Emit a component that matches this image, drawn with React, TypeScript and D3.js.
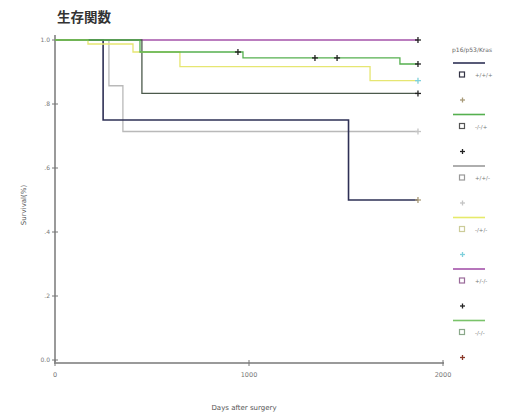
import React from "react";
import * as d3 from "d3";

const title = "生存関数";
const legendTitle = "p16/p53/Kras";
const groups = ["+/+/+", "-/-/+", "+/+/-", "-/+/-", "+/-/-", "-/-/-"];

// step times (days) and survival after each step
const timesS1 = [0, 248, 1513, 1871];
const survS1 = [1, 0.75, 0.5, 0.5];
const censS1 = [1871];

const timesS2 = [0, 438, 969, 1778, 1871];
const survS2 = [1, 0.9625, 0.944, 0.925, 0.925];
const censS2 = [943, 1340, 1454, 1871];

const timesS3 = [0, 278, 350, 1871];
const survS3 = [1, 0.857, 0.714, 0.714];
const censS3 = [1871];

const timesS4 = [0, 170, 402, 644, 1624, 1871];
const survS4 = [1, 0.9875, 0.9625, 0.917, 0.873, 0.873];
const censS4 = [1871];

const timesS5 = [0, 1871];
const survS5 = [1, 1];
const censS5 = [1871];

const timesS6 = [0, 448, 1871];
const survS6 = [1, 0.833, 0.833];
const censS6 = [1871];

const xTicks = [0, 1000, 2000];
const xTickLabels = ["0", "1000", "2000"];
const yTicks = [0, 0.2, 0.4, 0.6, 0.8, 1.0];
const yTickLabels = ["0.0", ".2", ".4", ".6", ".8", "1.0"];

const seriesTimes = [timesS1, timesS2, timesS3, timesS4, timesS5, timesS6];
const seriesSurv = [survS1, survS2, survS3, survS4, survS5, survS6];
const seriesCens = [censS1, censS2, censS3, censS4, censS5, censS6];

const curveColors = ["#2e3055", "#55b04f", "#b9b9b9", "#e6e672", "#a452aa", "#4c5a4c"];
const legendLineColors = ["#2e3055", "#55b04f", "#9a9a9a", "#e6ea6a", "#a452aa", "#7ac36a"];
const censorColors = ["#a89a78", "#222222", "#c4c4c4", "#7fd0dc", "#222222", "#8a3a2a"];
const symbolColors = ["#333344", "#555555", "#999999", "#cccc99", "#9a6a9a", "#8aa88a"];
const drawOrder = [4, 2, 0, 5, 3, 1];

const x = d3.scaleLinear().domain([0, 2000]).range([55, 443]);
const y = d3.scaleLinear().domain([0, 1]).range([360, 40]);

const line = d3
  .line<[number, number]>()
  .x((d) => x(d[0]))
  .y((d) => y(d[1]))
  .curve(d3.curveStepAfter);

function survAt(times: number[], surv: number[], t: number) {
  let v = surv[0];
  for (let i = 0; i < times.length; i++) if (times[i] <= t) v = surv[i];
  return v;
}

function Plus({ cx, cy, color, s = 3 }: { cx: number; cy: number; color: string; s?: number }) {
  return (
    <g stroke={color} strokeWidth={1.3}>
      <line x1={cx - s} x2={cx + s} y1={cy} y2={cy} />
      <line x1={cx} x2={cx} y1={cy - s} y2={cy + s} />
    </g>
  );
}

export default function App() {
  const font = "'DejaVu Sans', Arial, sans-serif";
  return (
    <svg width={515} height={414} style={{ position: "absolute", left: 0, top: 0, background: "#fff" }}>
      <text x={57} y={22} fontSize={13.5} fontWeight="bold" fill="#333" fontFamily="'Noto Sans CJK JP', sans-serif">
        {title}
      </text>

      {/* axes */}
      <line x1={55} x2={55} y1={35} y2={363} stroke="#9a9a9a" strokeWidth={2} />
      <line x1={54} x2={444} y1={363} y2={363} stroke="#9a9a9a" strokeWidth={2} />
      {yTicks.map((t, i) => (
        <g key={"yt" + i}>
          <line x1={52} x2={58} y1={y(t)} y2={y(t)} stroke="#777" strokeWidth={1} />
          <text x={50} y={y(t) + 2} fontSize={6} textAnchor="end" fill="#777" fontFamily={font}>
            {yTickLabels[i]}
          </text>
        </g>
      ))}
      {xTicks.map((t, i) => (
        <g key={"xt" + i}>
          <line x1={x(t)} x2={x(t)} y1={360} y2={366} stroke="#777" strokeWidth={1} />
          <text x={x(t)} y={377} fontSize={6.5} textAnchor="middle" fill="#777" fontFamily={font}>
            {xTickLabels[i]}
          </text>
        </g>
      ))}
      <text x={244} y={410} fontSize={7} textAnchor="middle" fill="#555" fontFamily={font}>
        Days after surgery
      </text>
      <text
        transform="translate(26,205) rotate(-90)"
        fontSize={7}
        textAnchor="middle"
        fill="#555"
        fontFamily={font}
      >
        Survival(%)
      </text>

      {/* curves */}
      {drawOrder.map((si) => {
        const pts = seriesTimes[si].map((t, j) => [t, seriesSurv[si][j]] as [number, number]);
        return (
          <g key={"s" + si}>
            <path d={line(pts) || ""} fill="none" stroke={curveColors[si]} strokeWidth={si === 0 ? 1.6 : 1.3} />
          </g>
        );
      })}
      {drawOrder.map((si) => (
        <g key={"c" + si}>
          {seriesCens[si].map((t, j) => (
            <Plus
              key={j}
              cx={x(t)}
              cy={y(survAt(seriesTimes[si], seriesSurv[si], t))}
              color={si === 1 || si === 4 || si === 5 ? "#222" : censorColors[si]}
            />
          ))}
        </g>
      ))}

      {/* legend */}
      <text x={452} y={52} fontSize={6} fill="#666" fontFamily={font}>
        {legendTitle}
      </text>
      {groups.map((g, i) => {
        const ly = 63 + i * 51.5;
        return (
          <g key={"lg" + i}>
            <line x1={453} x2={485} y1={ly} y2={ly} stroke={legendLineColors[i]} strokeWidth={1.6} />
            <rect x={459.5} y={ly + 9} width={5} height={5} fill="#fff" stroke={symbolColors[i]} strokeWidth={1.2} />
            <text x={475} y={ly + 14} fontSize={5.5} fill="#777" fontFamily={font}>
              {g}
            </text>
            <Plus cx={462.5} cy={ly + 37} color={censorColors[i]} s={2.5} />
          </g>
        );
      })}
    </svg>
  );
}
